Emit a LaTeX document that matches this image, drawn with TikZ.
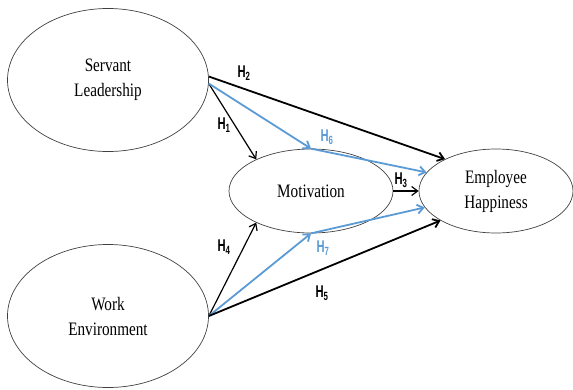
\documentclass[tikz,border=0pt]{standalone}
\usepackage{fontspec}
\setmainfont[FakeStretch=0.8]{Liberation Serif}
\newfontfamily\hfont[FakeStretch=0.66]{Liberation Sans}
\usetikzlibrary{shapes.geometric,arrows.meta}
\definecolor{hblue}{RGB}{91,155,213}

\begin{document}
\begin{tikzpicture}[x=1pt, y=-1pt,
  construct/.style={draw=black!75, ellipse, line width=0.7pt, inner sep=0pt, align=center, font=\fontsize{19}{25}\selectfont},
  hlab/.style={font=\hfont\bfseries\fontsize{17}{17}\selectfont, inner sep=1pt},
  hyp/.style={arrows=-{Straight Barb[length=6pt,width=9pt]}, line width=1.2pt},
  direct/.style={hyp, line width=1.8pt},
  mediated/.style={hyp, draw=hblue, line width=1.8pt}]
\useasboundingbox (0,0) rectangle (573,389);
% constructs
\node (sl)[construct, minimum width=201pt, minimum height=143pt] at (108,80) {Servant\\Leadership};
\node (we)[construct, minimum width=201pt, minimum height=143pt] at (108,316) {Work\\Environment};
\node (mot)[construct, minimum width=164pt, minimum height=84pt] at (311,191) {Motivation};
\node (eh)[construct, minimum width=154pt, minimum height=84pt] at (496,191) {Employee\\Happiness};
% paths
\draw[direct] (sl.2) -- (eh.148);
\draw[hyp] (sl.-2) -- (mot.150);
\draw[mediated] (sl.-2) -- (mot.north);
\draw[mediated] (mot.north) -- (eh.165);
\draw[hyp] (mot.east) -- (eh.west);
\draw[hyp] (we.east) -- (mot.210);
\draw[mediated] (we.east) -- (mot.south);
\draw[mediated] (mot.south) -- (eh.193);
\draw[direct] (we.east) -- (eh.208);
% labels
\node (h1)[hlab] at (224,125) {H\textsubscript{1}};
\node (h2)[hlab] at (244,73) {H\textsubscript{2}};
\node (h3)[hlab] at (401,180) {H\textsubscript{3}};
\node (h4)[hlab] at (224,247) {H\textsubscript{4}};
\node (h5)[hlab] at (322,293) {H\textsubscript{5}};
\node (h6)[hlab, text=hblue] at (327,137) {H\textsubscript{6}};
\node (h7)[hlab, text=hblue] at (323,248) {H\textsubscript{7}};
\end{tikzpicture}
\end{document}
